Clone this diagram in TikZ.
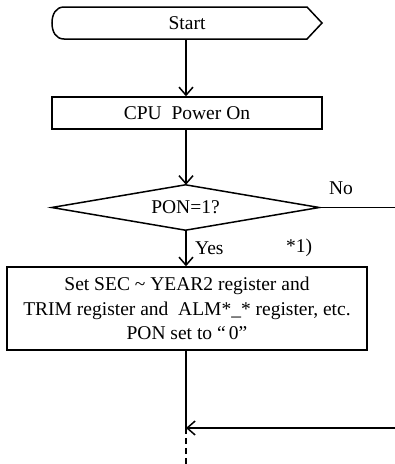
\documentclass[tikz,border=0pt]{standalone}
\usepackage{fontspec}
\setmainfont{Liberation Serif}
\usetikzlibrary{shapes.geometric,arrows.meta}
\begin{document}
\begin{tikzpicture}[x=1pt,y=-1pt,
  every node/.style={font=\fontsize{19.5}{24.5}\selectfont},
  line/.style={line width=1.5pt},
  arr/.style={line, -{Straight Barb[length=8pt,width=14pt,line width=1.5pt]}},
  boxnode/.style={draw, line width=1.5pt, rectangle, inner sep=0pt},
  lbl/.style={inner sep=0pt}
]
\useasboundingbox (0,0) rectangle (395,464);
% Start terminator
\node[inner sep=0pt, minimum width=270pt, minimum height=32pt] (start) at (187,23) {Start};
\draw[line] (64,39) .. controls (56,39) and (52,32) .. (52,23)
  .. controls (52,14) and (56,7) .. (64,7) -- (307,7) -- (322,23) -- (307,39) -- cycle;
% CPU Power On
\node[boxnode, minimum width=270pt, minimum height=32pt] (cpu) at (187,113) {CPU\ \ Power On};
% Decision
\node[inner sep=0pt, minimum width=267pt, minimum height=45pt] (dec) at (185.5,207.5) {PON=1?};
\draw[line] (dec.west) -- (dec.north) -- (dec.east) -- (dec.south) -- cycle;
% Process box
\node[boxnode, minimum width=360pt, minimum height=83pt, align=center] (proc) at (187,308.5)
  {Set SEC \textasciitilde\ YEAR2 register and\\TRIM register and\ \ ALM*\_* register, etc.\\PON set to “\,0”};
% coordinates
\coordinate (noend) at (395,207.5);
\coordinate (join) at (186,428);
\coordinate (retin) at (395,428);
\coordinate (down) at (186,464);
% connectors
\draw[arr] (start.south -| 186,0) -- (cpu.north -| 186,0);
\draw[arr] (cpu.south -| 186,0) -- (dec.north -| 186,0);
\draw[arr] (dec.south -| 186,0) -- (proc.north -| 186,0);
\draw[line] (dec.east) -- (noend);
\draw[line] (proc.south -| 186,0) -- (join);
\draw[arr] (retin) -- (join);
\draw[line, dashed, dash pattern=on 6pt off 4pt] (join) -- (down);
% labels
\node[lbl] (no) at (341,188) {No};
\node[lbl, anchor=west] (yes) at (195,248) {Yes};
\node[lbl] (note) at (299,248) {*1)};
\end{tikzpicture}
\end{document}
